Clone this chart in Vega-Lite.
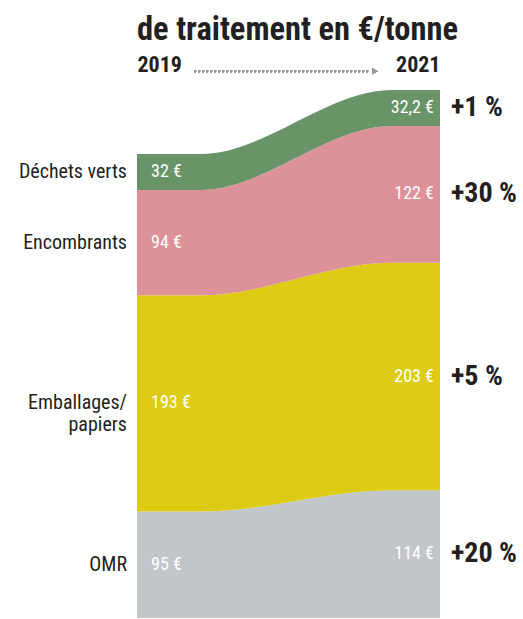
{
  "$schema": "https://vega.github.io/schema/vega-lite/v6.json",
  "width": 303,
  "height": 528,
  "autosize": {"type": "none"},
  "padding": {"left": 137, "top": 90, "right": 83, "bottom": 1},
  "background": "white",
  "config": {"view": {"stroke": null}, "font": "Roboto Condensed, Liberation Sans Narrow, DejaVu Sans Condensed, sans-serif"},
  "title": {
    "text": "de traitement en €/tonne",
    "anchor": "start",
    "frame": "group",
    "fontSize": 32.5,
    "fontWeight": "bold",
    "color": "#231f20",
    "font": "Roboto Condensed, Liberation Sans Narrow, DejaVu Sans Condensed, sans-serif",
    "offset": 7
  },
  "data": {
    "values": [
      {"categorie": "OMR", "ordre": 1, "t": 2019, "cout": 95, "evol": 20},
      {"categorie": "OMR", "ordre": 1, "t": 2019.42, "cout": 95, "evol": 20},
      {"categorie": "OMR", "ordre": 1, "t": 2020.68, "cout": 114, "evol": 20},
      {"categorie": "OMR", "ordre": 1, "t": 2021, "cout": 114, "evol": 20},
      {"categorie": "Emballages/\npapiers", "ordre": 2, "t": 2019, "cout": 193, "evol": 5},
      {"categorie": "Emballages/\npapiers", "ordre": 2, "t": 2019.42, "cout": 193, "evol": 5},
      {"categorie": "Emballages/\npapiers", "ordre": 2, "t": 2020.68, "cout": 203, "evol": 5},
      {"categorie": "Emballages/\npapiers", "ordre": 2, "t": 2021, "cout": 203, "evol": 5},
      {"categorie": "Encombrants", "ordre": 3, "t": 2019, "cout": 94, "evol": 30},
      {"categorie": "Encombrants", "ordre": 3, "t": 2019.42, "cout": 94, "evol": 30},
      {"categorie": "Encombrants", "ordre": 3, "t": 2020.68, "cout": 122, "evol": 30},
      {"categorie": "Encombrants", "ordre": 3, "t": 2021, "cout": 122, "evol": 30},
      {"categorie": "Déchets verts", "ordre": 4, "t": 2019, "cout": 32, "evol": 1},
      {"categorie": "Déchets verts", "ordre": 4, "t": 2019.42, "cout": 32, "evol": 1},
      {"categorie": "Déchets verts", "ordre": 4, "t": 2020.68, "cout": 32.2, "evol": 1},
      {"categorie": "Déchets verts", "ordre": 4, "t": 2021, "cout": 32.2, "evol": 1}
    ]
  },
  "transform": [
    {"stack": "cout", "groupby": ["t"], "sort": [{"field": "ordre", "order": "ascending"}], "as": ["y0", "y1"]},
    {"calculate": "(datum.y0 + datum.y1) / 2", "as": "mid"},
    {"calculate": "replace(toString(datum.cout), '.', ',') + ' €'", "as": "lab"},
    {"calculate": "'+' + datum.evol + ' %'", "as": "evolLab"}
  ],
  "layer": [
    {
      "mark": {"type": "area", "interpolate": "monotone"},
      "encoding": {
        "x": {
          "field": "t", "type": "quantitative",
          "scale": {"domain": [2019, 2021], "nice": false, "zero": false},
          "axis": {
            "orient": "top", "values": [2019, 2021], "format": "d",
            "labelFlush": true, "domain": false, "ticks": false, "grid": false,
            "title": null, "labelFontSize": 22, "labelFontWeight": "bold",
            "labelColor": "#231f20", "labelPadding": 14
          }
        },
        "y": {"field": "y0", "type": "quantitative", "scale": {"domain": [0, 471.2], "nice": false}, "axis": null},
        "y2": {"field": "y1"},
        "color": {
          "field": "categorie", "type": "nominal",
          "scale": {
            "domain": ["OMR", "Emballages/\npapiers", "Encombrants", "Déchets verts"],
            "range": ["#c1c6ca", "#decb14", "#dd9198", "#689467"]
          },
          "legend": null
        }
      }
    },
    {
      "transform": [{"filter": "datum.t == 2019"}],
      "mark": {"type": "text", "align": "right", "baseline": "middle", "dx": -10, "fontSize": 20, "color": "#231f20", "lineBreak": "\n", "lineHeight": 22},
      "encoding": {
        "x": {"field": "t", "type": "quantitative"},
        "y": {"field": "mid", "type": "quantitative", "scale": {"domain": [0, 471.2], "nice": false}},
        "text": {"field": "categorie"}
      }
    },
    {
      "transform": [{"filter": "datum.t == 2019"}],
      "mark": {"type": "text", "align": "left", "baseline": "middle", "dx": 14, "fontSize": 18, "color": "white"},
      "encoding": {
        "x": {"field": "t", "type": "quantitative"},
        "y": {"field": "mid", "type": "quantitative", "scale": {"domain": [0, 471.2], "nice": false}},
        "text": {"field": "lab"}
      }
    },
    {
      "transform": [{"filter": "datum.t == 2021"}],
      "mark": {"type": "text", "align": "right", "baseline": "middle", "dx": -6, "fontSize": 18, "color": "white"},
      "encoding": {
        "x": {"field": "t", "type": "quantitative"},
        "y": {"field": "mid", "type": "quantitative", "scale": {"domain": [0, 471.2], "nice": false}},
        "text": {"field": "lab"}
      }
    },
    {
      "transform": [{"filter": "datum.t == 2021"}],
      "mark": {"type": "text", "align": "left", "baseline": "middle", "dx": 11, "fontSize": 28, "fontWeight": "bold", "color": "#231f20"},
      "encoding": {
        "x": {"field": "t", "type": "quantitative"},
        "y": {"field": "mid", "type": "quantitative", "scale": {"domain": [0, 471.2], "nice": false}},
        "text": {"field": "evolLab"}
      }
    },
    {
      "mark": {"type": "rule", "color": "#9a9a9a", "strokeWidth": 2, "strokeDash": [1.5, 2.5]},
      "encoding": {
        "x": {"datum": 2019.38, "type": "quantitative"},
        "x2": {"datum": 2020.53},
        "y": {"datum": 488, "type": "quantitative", "scale": {"domain": [0, 471.2], "nice": false}}
      }
    },
    {
      "mark": {"type": "point", "shape": "triangle-right", "filled": true, "color": "#9a9a9a", "size": 40, "opacity": 1},
      "encoding": {
        "x": {"datum": 2020.57, "type": "quantitative"},
        "y": {"datum": 488, "type": "quantitative", "scale": {"domain": [0, 471.2], "nice": false}}
      }
    }
  ]
}
